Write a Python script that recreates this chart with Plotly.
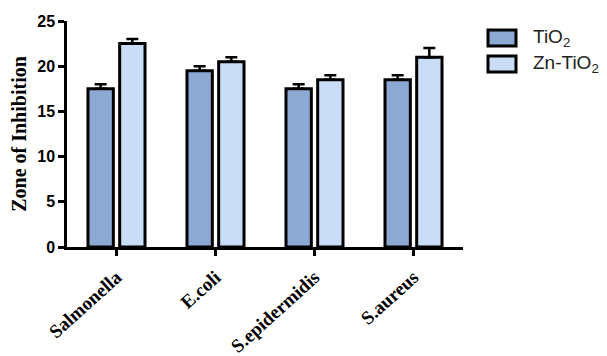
import plotly.graph_objects as go

# Zone of inhibition per bacterial strain
strains = ["Salmonella", "E.coli", "S.epidermidis", "S.aureus"]
tio2_zone = [17.5, 19.5, 17.5, 18.5]
tio2_err = [0.5, 0.5, 0.5, 0.5]
zn_tio2_zone = [22.5, 20.5, 18.5, 21.0]
zn_tio2_err = [0.5, 0.5, 0.5, 1.0]
y_ticks = [0, 5, 10, 15, 20, 25]

series_names = ["TiO<sub>2</sub>", "Zn-TiO<sub>2</sub>"]
fills = ["#8CA9D3", "#C9DDF6"]

fig = go.Figure()
for name, vals, errs, col in zip(series_names, [tio2_zone, zn_tio2_zone],
                                 [tio2_err, zn_tio2_err], fills):
    fig.add_trace(go.Bar(
        x=strains, y=vals, name=name, showlegend=False,
        marker=dict(color=col, line=dict(color="black", width=3)),
        error_y=dict(type="data", array=errs, symmetric=False, arrayminus=[0] * len(errs),
                     color="black", thickness=2.5, width=6),
    ))

# Legend drawn as boxed swatches with labels (pixel positions mapped to paper units)
def px_x(px):
    return (px - 67) / 396

def px_y(py):
    return 1 - (py - 21) / 226

for i, (name, col) in enumerate(zip(series_names, fills)):
    top = 30 + i * 26
    fig.add_shape(type="rect", xref="paper", yref="paper",
                  x0=px_x(488), x1=px_x(516), y0=px_y(top + 16), y1=px_y(top),
                  fillcolor=col, line=dict(color="black", width=3))
    fig.add_annotation(xref="paper", yref="paper",
                       x=px_x(531), y=px_y(top + 8),
                       text=name, showarrow=False, xanchor="left", yanchor="middle",
                       font=dict(family="Liberation Sans, Arial", size=19, color="#222"))

fig.update_layout(
    width=607, height=356,
    margin=dict(l=67, r=144, t=21, b=109),
    paper_bgcolor="white", plot_bgcolor="white",
    barmode="group", bargap=0.36, bargroupgap=0.2,
    xaxis=dict(
        range=[-0.5, 3.5], showline=True, linecolor="black", linewidth=2.5,
        ticks="outside", ticklen=6, tickwidth=2.5, tickcolor="black",
        tickangle=-42, showgrid=False, automargin=False, ticklabelstandoff=3,
        tickfont=dict(family="Liberation Serif, Times New Roman", size=19, color="black",
                      weight="bold"),
    ),
    yaxis=dict(
        range=[0, 25], tickvals=y_ticks, showline=True, linecolor="black", linewidth=2.5,
        ticks="outside", ticklen=6, tickwidth=2.5, tickcolor="black",
        showgrid=False, zeroline=False, automargin=False,
        tickfont=dict(family="Liberation Sans, Arial", size=16, color="black", weight="bold"),
        title=dict(text="Zone of Inhibition", standoff=6,
                   font=dict(family="Liberation Serif, Times New Roman", size=20,
                             color="black", weight="bold")),
    ),
)

fig.write_html("out.html")
